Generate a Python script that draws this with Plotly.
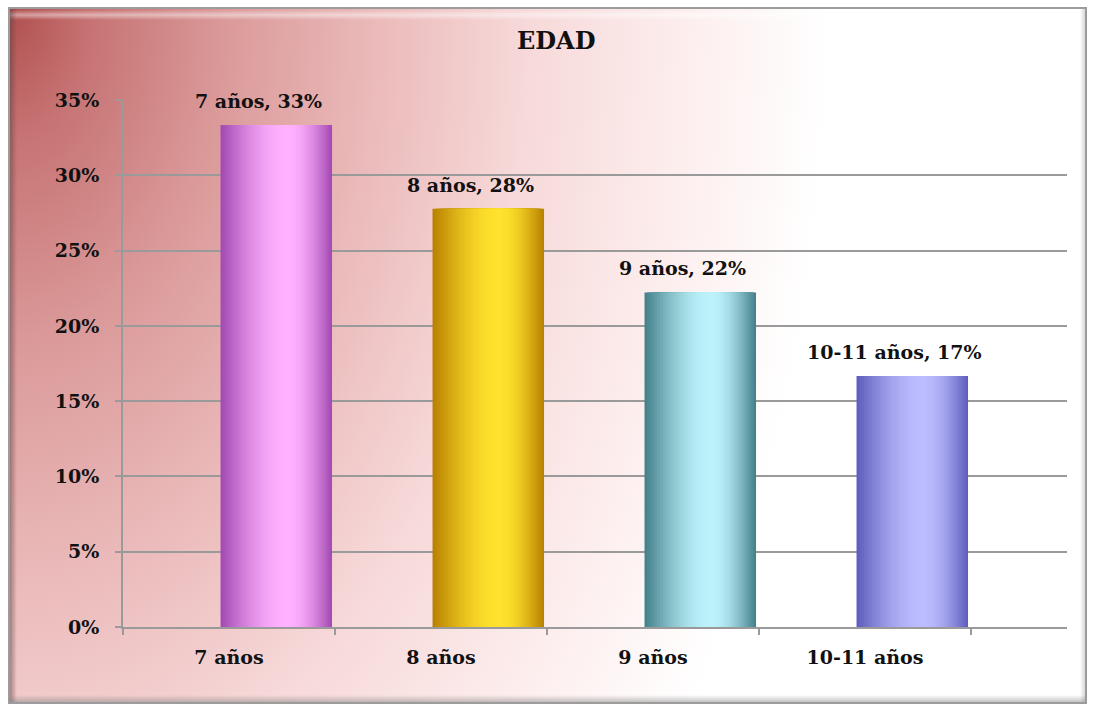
import base64
import math
import plotly.graph_objects as go

# ---------------- data ----------------
categories = ["7 años", "8 años", "9 años", "10-11 años"]
values = [6 / 18, 5 / 18, 4 / 18, 3 / 18]
y_ticks = [0, 0.05, 0.10, 0.15, 0.20, 0.25, 0.30, 0.35]
title_text = "EDAD"

# ---------------- style ----------------
W, H = 1094, 707
ML, MR, MT, MB = 123, 27, 100, 80
PW, PH = W - ML - MR, H - MT - MB
FONT = "DejaVu Serif"

edge_cols = [(165, 75, 180), (185, 130, 0), (70, 130, 140), (95, 95, 190)]
hi_cols = [(255, 178, 255), (255, 226, 45), (188, 242, 252), (188, 188, 255)]
BAR_LEFT = -0.040   # bar left edge relative to category centre (x units)
BAR_W = 0.526       # full bar width (x units)
HL = 0.60           # highlight position across bar
NLAYERS = 26


def px_x(px):
    return (px - ML) / PW


def px_y(py):
    return (H - MB - py) / PH


def mix(c1, c2, t):
    return "rgb(%d,%d,%d)" % tuple(round(a + (b - a) * t) for a, b in zip(c1, c2))


fig = go.Figure()

# cylinder-like bars built from nested overlaid bars
for k in range(NLAYERS):
    s = k / NLAYERS
    left = HL * s
    right = 1 - (1 - HL) * s
    g = math.sin(s * math.pi / 2)
    fig.add_trace(go.Bar(
        x=categories,
        y=values,
        width=BAR_W * (right - left),
        offset=BAR_LEFT + BAR_W * left,
        marker=dict(color=[mix(e, h, g) for e, h in zip(edge_cols, hi_cols)],
                    line=dict(width=0)),
        hoverinfo="skip" if k else "x+y",
        showlegend=False,
    ))

# data labels
for i, (c, v) in enumerate(zip(categories, values)):
    fig.add_annotation(
        x=i + 0.14, y=v, yshift=24, showarrow=False,
        text="%s, %d%%" % (c, round(v * 100)),
        font=dict(family=FONT, size=19, color="#111111", weight="bold"),
        xanchor="center", yanchor="middle",
    )

# title
fig.add_annotation(
    xref="paper", yref="paper", x=px_x(556), y=px_y(41),
    text=title_text, showarrow=False,
    font=dict(family=FONT, size=24, color="#111111", weight="bold"),
    xanchor="center", yanchor="middle",
)

# background frame (gradient) as an SVG image
FX0, FY0, FX1, FY1 = 8, 7, 1087, 704
fw, fh = FX1 - FX0, FY1 - FY0
svg = f'''<svg xmlns="http://www.w3.org/2000/svg" width="{fw}" height="{fh}" viewBox="0 0 {fw} {fh}" preserveAspectRatio="none">
<defs>
<radialGradient id="g" cx="0" cy="0" r="1" gradientUnits="userSpaceOnUse" gradientTransform="scale(1000,1550)">
<stop offset="0" stop-color="#b04e4e"/>
<stop offset="0.08" stop-color="#c67272"/>
<stop offset="0.22" stop-color="#db9a9a"/>
<stop offset="0.38" stop-color="#ecbcbc"/>
<stop offset="0.52" stop-color="#f7d9d9"/>
<stop offset="0.68" stop-color="#fdeeee"/>
<stop offset="0.82" stop-color="#ffffff"/>
</radialGradient>
<linearGradient id="lft" x1="0" y1="0" x2="1" y2="0">
<stop offset="0" stop-color="#5a4040" stop-opacity="0.65"/>
<stop offset="1" stop-color="#5a4040" stop-opacity="0"/>
</linearGradient>
<linearGradient id="top" x1="0" y1="0" x2="0" y2="1">
<stop offset="0" stop-color="#ffffff" stop-opacity="0"/>
<stop offset="0.5" stop-color="#ffffff" stop-opacity="0.45"/>
<stop offset="1" stop-color="#ffffff" stop-opacity="0"/>
</linearGradient>
<linearGradient id="bot" x1="0" y1="0" x2="0" y2="1">
<stop offset="0" stop-color="#808080" stop-opacity="0"/>
<stop offset="1" stop-color="#808080" stop-opacity="0.6"/>
</linearGradient>
<linearGradient id="rgt" x1="0" y1="0" x2="1" y2="0">
<stop offset="0" stop-color="#909090" stop-opacity="0"/>
<stop offset="1" stop-color="#909090" stop-opacity="0.5"/>
</linearGradient>
</defs>
<rect x="0" y="0" width="{fw}" height="{fh}" fill="url(#g)"/>
<rect x="0" y="3" width="{fw}" height="10" fill="url(#top)"/>
<rect x="0" y="0" width="9" height="{fh}" fill="url(#lft)"/>
<rect x="0" y="{fh - 9}" width="{fw}" height="9" fill="url(#bot)"/>
<rect x="{fw - 7}" y="0" width="7" height="{fh}" fill="url(#rgt)"/>
<rect x="1" y="1" width="{fw - 2}" height="{fh - 2}" fill="none" stroke="#9c9c9c" stroke-width="2"/>
</svg>'''
src = "data:image/svg+xml;base64," + base64.b64encode(svg.encode()).decode()
fig.add_layout_image(
    source=src, xref="paper", yref="paper",
    x=px_x(FX0), y=px_y(FY0), sizex=fw / PW, sizey=fh / PH,
    xanchor="left", yanchor="top", sizing="stretch", layer="below",
)

GRID = "#9a9a9a"
fig.update_layout(
    width=W, height=H, autosize=False,
    margin=dict(l=ML, r=MR, t=MT, b=MB, pad=0),
    paper_bgcolor="white", plot_bgcolor="rgba(0,0,0,0)",
    barmode="overlay", showlegend=False,
    xaxis=dict(
        type="category", range=[-0.5, 3.5 + 96 / 212],
        showgrid=False, showline=True, linecolor=GRID, linewidth=2,
        ticks="outside", ticklen=6, tickwidth=2, tickcolor=GRID,
        tickson="boundaries", ticklabelstandoff=12,
        tickfont=dict(family=FONT, size=19, color="#111111", weight="bold"),
        fixedrange=True,
    ),
    yaxis=dict(
        range=[0, 0.35], tickvals=y_ticks, tickformat=".0%",
        showgrid=True, gridcolor=GRID, gridwidth=2,
        showline=True, linecolor=GRID, linewidth=2,
        ticks="outside", ticklen=6, tickwidth=2, tickcolor=GRID,
        ticklabelstandoff=12, zeroline=False,
        tickfont=dict(family=FONT, size=19, color="#111111", weight="bold"),
        fixedrange=True,
    ),
)

fig.write_html("out.html")
